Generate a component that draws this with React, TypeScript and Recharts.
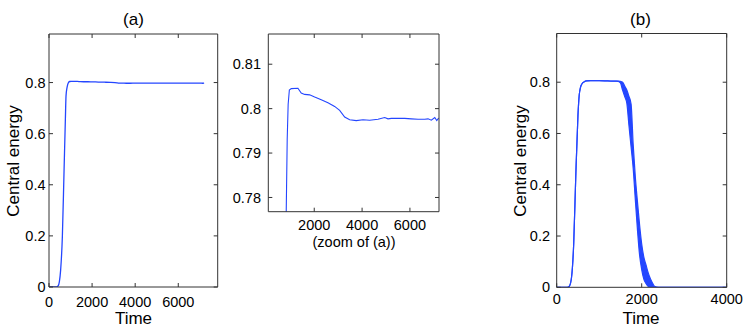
// Central energy vs time: panel (a), its zoom, and panel (b). MATLAB-style boxed axes.
import React from 'react'
import { ComposedChart, Line, Area, XAxis, YAxis } from 'recharts'

// panel (a) — also used by the zoom panel
const TIME_A = [0, 350, 430, 480, 540, 620, 700, 760, 790, 830, 870, 910, 960, 1040, 1318, 1456, 1598, 1807, 2017, 2293, 2573, 2853, 3063, 3272, 3481, 3757, 4038, 4318, 4665, 4945, 5084, 5222, 5500, 5782, 6058, 6339, 6619, 6757, 6895, 7038, 7121, 7200]
const ENERGY_A = [0, 0, 0.005, 0.02, 0.066, 0.197, 0.46, 0.656, 0.748, 0.777, 0.793, 0.801, 0.8042, 0.8045, 0.8046, 0.8035, 0.8032, 0.8031, 0.8026, 0.802, 0.8013, 0.8005, 0.7996, 0.7981, 0.7975, 0.7973, 0.7975, 0.7974, 0.7976, 0.798, 0.7977, 0.7978, 0.7978, 0.7978, 0.7977, 0.7976, 0.7976, 0.7977, 0.7974, 0.798, 0.7973, 0.7979]

// panel (b) — the fall is a thick band, kept as low/high envelope
const TIME_B = [0, 250, 300, 350, 400, 450, 500, 530, 560, 600, 650, 700, 800, 1000, 1200, 1400, 1450, 1500, 1550, 1600, 1650, 1700, 1750, 1800, 1850, 1900, 1950, 2000, 2050, 2100, 2150, 2200, 2250, 2300, 2400, 4000]
const LOW_B = [0, 0, 0.005, 0.04, 0.17, 0.44, 0.67, 0.75, 0.78, 0.795, 0.802, 0.805, 0.806, 0.806, 0.805, 0.804, 0.803, 0.797, 0.769, 0.744, 0.718, 0.631, 0.548, 0.464, 0.342, 0.225, 0.126, 0.069, 0.032, 0.015, 0.004, 0, 0, 0, 0, 0]
const HIGH_B = [0, 0, 0.005, 0.04, 0.17, 0.44, 0.67, 0.75, 0.78, 0.795, 0.802, 0.805, 0.806, 0.806, 0.805, 0.804, 0.804, 0.803, 0.8, 0.785, 0.77, 0.745, 0.715, 0.556, 0.43, 0.334, 0.244, 0.169, 0.118, 0.088, 0.058, 0.035, 0.018, 0.004, 0, 0]

const Y_TICKS = [0, 0.2, 0.4, 0.6, 0.8]
const ZOOM_Y_TICKS = [0.78, 0.79, 0.8, 0.81]
const A_X_TICKS = [0, 2000, 4000, 6000]
const ZOOM_X_TICKS = [2000, 4000, 6000]
const B_X_TICKS = [0, 2000, 4000]

const dataA = TIME_A.map((t, i) => ({ t, e: ENERGY_A[i] }))
const dataB = TIME_B.map((t, i) => ({ t, band: [LOW_B[i], HIGH_B[i]], hi: HIGH_B[i] }))

const FONT = '"Liberation Sans", Arial, Helvetica, sans-serif'
const BLUE = '#2446ff'
const AXIS = '#333'
const tickStyle = { fontSize: 14.5, fill: '#000', fontFamily: FONT }
const blank = () => ''

// four-sided box with inward ticks (axis sizes: bottom 30, top 5, left 30, right 5)
function boxAxes(xDomain: number[], xTicks: number[], yDomain: number[], yTicks: number[], yMargin: number, xMargin: number) {
  return [
    <XAxis key="xb" xAxisId="b" type="number" dataKey="t" domain={xDomain} ticks={xTicks} allowDataOverflow
      height={30} stroke={AXIS} tickSize={-4} tickMargin={xMargin} tick={tickStyle} interval={0} />,
    <XAxis key="xt" xAxisId="t" type="number" dataKey="t" orientation="top" domain={xDomain} ticks={xTicks} allowDataOverflow
      height={5} stroke={AXIS} tickSize={-4} tickFormatter={blank} interval={0} />,
    <YAxis key="yl" yAxisId="l" type="number" domain={yDomain} ticks={yTicks} allowDataOverflow
      width={30} stroke={AXIS} tickSize={-4} tickMargin={yMargin} tick={tickStyle} interval={0} tickFormatter={(v: number) => String(v)} />,
    <YAxis key="yr" yAxisId="r" type="number" orientation="right" domain={yDomain} ticks={yTicks} allowDataOverflow
      width={5} stroke={AXIS} tickSize={-4} tickFormatter={blank} interval={0} />,
  ]
}

function Txt({ x, y, size = 17, rotate = false, children }: { x: number; y: number; size?: number; rotate?: boolean; children: React.ReactNode }) {
  return (
    <div style={{
      position: 'absolute', left: x, top: y, fontFamily: FONT, fontSize: size, color: '#000', whiteSpace: 'nowrap',
      transform: `translate(-50%, -50%)${rotate ? ' rotate(-90deg)' : ''}`, lineHeight: 1,
    }}>{children}</div>
  )
}

export default function App() {
  return (
    <div style={{ position: 'absolute', left: 0, top: 0, width: 747, height: 331, background: '#fff', overflow: 'hidden' }}>
      <div style={{ position: 'absolute', left: 0, top: 0 }}>
        <ComposedChart width={230} height={331} data={dataA} margin={{ top: 29, left: 19, right: 7.3, bottom: 14 }}>
          {boxAxes([0, 7830], A_X_TICKS, [0, 0.99], Y_TICKS, 7.5, 13.5)}
          <Line xAxisId="b" yAxisId="l" type="monotone" dataKey="e" stroke={BLUE} strokeWidth={1.3} dot={false} isAnimationActive={false} />
          <Line xAxisId="t" yAxisId="r" type="monotone" dataKey="e" stroke="none" dot={false} isAnimationActive={false} />
        </ComposedChart>
      </div>
      <div style={{ position: 'absolute', left: 230, top: 0 }}>
        <ComposedChart width={230} height={331} data={dataA} margin={{ top: 29, left: 8.3, right: 16, bottom: 89.3 }}>
          {boxAxes([80, 7215], ZOOM_X_TICKS, [0.7768, 0.8168], ZOOM_Y_TICKS, 11.3, 11.7)}
          <Line xAxisId="b" yAxisId="l" type="linear" dataKey="e" stroke={BLUE} strokeWidth={1.1} dot={false} isAnimationActive={false} />
          <Line xAxisId="t" yAxisId="r" type="linear" dataKey="e" stroke="none" dot={false} isAnimationActive={false} />
        </ComposedChart>
      </div>
      <div style={{ position: 'absolute', left: 500, top: 0 }}>
        <ComposedChart width={247} height={331} data={dataB} margin={{ top: 28.5, left: 26.7, right: 15.3, bottom: 13.7 }}>
          {boxAxes([0, 4000], B_X_TICKS, [0, 0.99], Y_TICKS, 10.7, 10.5)}
          <Area xAxisId="b" yAxisId="l" type="monotone" dataKey="band" stroke={BLUE} strokeWidth={1.2} fill={BLUE} fillOpacity={1} isAnimationActive={false} />
          <Line xAxisId="t" yAxisId="r" type="monotone" dataKey="hi" stroke="none" dot={false} isAnimationActive={false} />
        </ComposedChart>
      </div>

      <Txt x={133.5} y={18.5}>(a)</Txt>
      <Txt x={640.5} y={18.5}>(b)</Txt>
      <Txt x={133.5} y={318}>Time</Txt>
      <Txt x={641} y={318}>Time</Txt>
      <Txt x={12.5} y={161} rotate>Central energy</Txt>
      <Txt x={520} y={161} rotate>Central energy</Txt>
      <Txt x={354} y={241.5} size={14.5}>(zoom of (a))</Txt>
    </div>
  )
}
